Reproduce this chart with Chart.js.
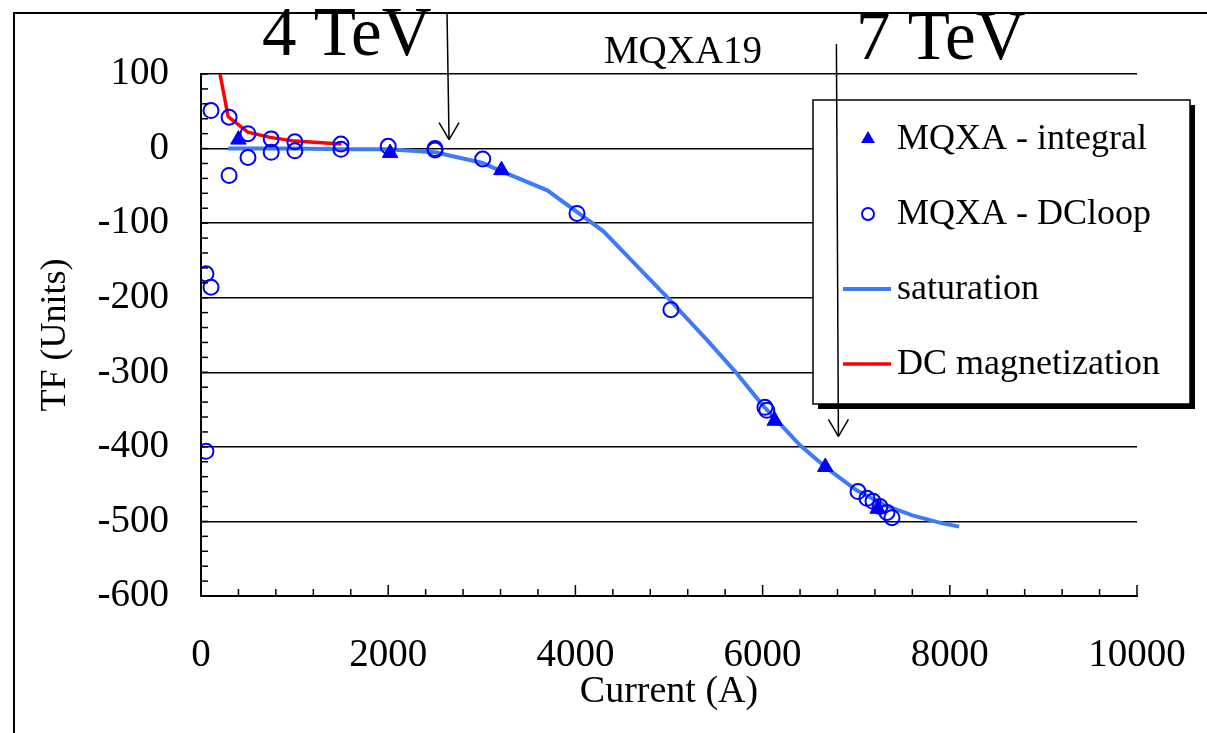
<!DOCTYPE html>
<html>
<head>
<meta charset="utf-8">
<script src="https://cdn.jsdelivr.net/npm/chart.js@4/dist/chart.umd.min.js"></script>
<style>
  html, body { margin:0; padding:0; background:#fff; }
  #wrap { position:relative; width:1207px; height:733px; }
</style>
</head>
<body>
<div id="wrap"><canvas id="c"></canvas></div>
<script>
// ---- data ----
const integralX = [400, 2020, 3210, 6130, 6670, 7230];
const integralY = [12, -6, -29, -365, -427, -483];

const dcloopX = [53, 53, 107, 107, 300, 300, 502, 502, 750, 750, 1003, 1003, 1495, 1495, 2000, 2500, 2500, 3010, 4017, 5020, 6025, 6045, 7019, 7115, 7180, 7254, 7329, 7382];
const dcloopY = [-168, -406, 51, -186, 42, -36, 20, -12, 13, -5, 9, -3, 6, -1, 3, 0, -2, -14, -87, -216, -347, -351, -460, -469, -473, -480, -488, -495];

const satX = [290, 1000, 1500, 2000, 2500, 3000, 3200, 3700, 4300, 4700, 5000, 5400, 5700, 6000, 6400, 6700, 7000, 7300, 7600, 7900, 8100];
const satY = [0, 0, -1, -1, -5, -19, -30, -56, -111, -163, -202, -256, -298, -344, -398, -430, -458, -478, -492, -502, -507];

const dcMagX = [203, 290, 500, 740, 1000, 1500];
const dcMagY = [100, 43, 22, 15, 10, 6];

const xTickLabels = ['0', '2000', '4000', '6000', '8000', '10000'];
const yTickLabels = ['100', '0', '-100', '-200', '-300', '-400', '-500', '-600'];
const seriesNames = ['MQXA - integral', 'MQXA - DCloop', 'saturation', 'DC magnetization'];
const chartTitle = 'MQXA19';
const energyLabels = ['4 TeV', '7 TeV'];
const energyCurrents = [2650, 6810];
const arrowTipValues = [12, -386];

const pts = (xs, ys) => xs.map((x, i) => ({x: x, y: ys[i]}));
const FONT = 'Liberation Serif, Times New Roman, serif';
const BLUE = '#0000ff';
const LIGHTBLUE = '#3d7cf6';
const RED = '#ff0000';

const overlay = {
  id: 'overlay',
  afterDraw(chart) {
    const ctx = chart.ctx, xs = chart.scales.x, ys = chart.scales.y, a = chart.chartArea;
    ctx.save();
    const line = (x1, y1, x2, y2) => { ctx.beginPath(); ctx.moveTo(x1, y1); ctx.lineTo(x2, y2); ctx.stroke(); };
    // inward ticks
    ctx.strokeStyle = '#000'; ctx.lineWidth = 1.5;
    for (let v = -600; v <= 100; v += 20) {
      const y = ys.getPixelForValue(v);
      line(a.left, y, a.left + 7, y);
    }
    for (let v = 0; v <= 10000; v += 400) {
      const x = xs.getPixelForValue(v);
      const len = (v % 2000 === 0) ? 11 : 7;
      line(x, a.bottom, x, a.bottom - len);
    }
    // legend box
    const L = 813, T = 100, R = 1190, B = 404;
    ctx.fillStyle = '#000';
    ctx.fillRect(L + 5, T + 5, R - L, B - T);
    ctx.fillStyle = '#fff';
    ctx.fillRect(L, T, R - L, B - T);
    ctx.strokeStyle = '#000'; ctx.lineWidth = 1.5;
    ctx.strokeRect(L, T, R - L, B - T);
    const rows = [139, 214, 289, 364];
    // triangle
    ctx.fillStyle = BLUE;
    const tr = 8, cx = 868;
    ctx.beginPath();
    ctx.moveTo(cx, rows[0] - tr);
    ctx.lineTo(cx + tr * 0.866, rows[0] + tr * 0.5);
    ctx.lineTo(cx - tr * 0.866, rows[0] + tr * 0.5);
    ctx.closePath(); ctx.fill();
    // circle
    ctx.strokeStyle = BLUE; ctx.lineWidth = 2;
    ctx.beginPath(); ctx.arc(cx, rows[1], 6, 0, Math.PI * 2); ctx.stroke();
    // lines
    ctx.lineWidth = 4; ctx.strokeStyle = LIGHTBLUE;
    line(843, rows[2], 891, rows[2]);
    ctx.lineWidth = 3.5; ctx.strokeStyle = RED;
    line(843, rows[3], 891, rows[3]);
    ctx.fillStyle = '#000';
    ctx.font = '36px ' + FONT;
    ctx.textAlign = 'left'; ctx.textBaseline = 'middle';
    seriesNames.forEach((n, i) => ctx.fillText(n, 897, rows[i] + 1));

    // title
    ctx.font = '39px ' + FONT;
    ctx.textAlign = 'center'; ctx.textBaseline = 'alphabetic';
    ctx.fillText(chartTitle, 683, 63);
    // energy labels
    ctx.font = '69px ' + FONT;
    ctx.textAlign = 'left';
    ctx.fillText(energyLabels[0], 262, 55);
    ctx.fillText(energyLabels[1], 856, 59);
    // arrows
    ctx.strokeStyle = '#000'; ctx.lineWidth = 1.5;
    const tops = [14, 44];
    energyCurrents.forEach((c, i) => {
      const tx = xs.getPixelForValue(c), ty = ys.getPixelForValue(arrowTipValues[i]);
      line(tx - 2, tops[i], tx, ty);
      line(tx - 10, ty - 17, tx, ty);
      line(tx + 10, ty - 17, tx, ty);
    });
    // outer frame (top + left)
    ctx.lineWidth = 2;
    line(13, 13, 1207, 13);
    line(14, 13, 14, 733);
    ctx.restore();
  }
};

new Chart(document.getElementById('c'), {
  type: 'scatter',
  data: {
    datasets: [
      { label: seriesNames[0], data: pts(integralX, integralY), pointStyle: 'triangle',
        pointRadius: 9, pointBackgroundColor: BLUE, pointBorderColor: BLUE, pointBorderWidth: 1, showLine: false, order: 0 },
      { label: seriesNames[1], data: pts(dcloopX, dcloopY), pointStyle: 'circle',
        pointRadius: 7.5, pointBackgroundColor: 'rgba(0,0,0,0)', pointBorderColor: BLUE, pointBorderWidth: 2, showLine: false, order: 1 },
      { label: seriesNames[2], data: pts(satX, satY), showLine: true, borderColor: LIGHTBLUE, borderWidth: 4,
        pointRadius: 0, tension: 0, fill: false, order: 2 },
      { label: seriesNames[3], data: pts(dcMagX, dcMagY), showLine: true, borderColor: RED, borderWidth: 3.5,
        pointRadius: 0, tension: 0, fill: false, order: 3 }
    ]
  },
  options: {
    responsive: true,
    maintainAspectRatio: false,
    animation: false,
    events: [],
    layout: { padding: { top: 74, right: 70, bottom: 0, left: 0 } },
    plugins: { legend: { display: false }, tooltip: { enabled: false }, title: { display: false } },
    scales: {
      x: {
        type: 'linear', min: 0, max: 10000,
        afterFit: s => { s.height = 137; s.paddingLeft = 0; s.paddingRight = 0; },
        grid: { display: false, drawTicks: false },
        border: { display: true, color: '#000', width: 2 },
        ticks: { stepSize: 2000, padding: 36, color: '#000', font: { family: FONT, size: 39 },
          maxRotation: 0, callback: (v) => xTickLabels[Math.round(v / 2000)] },
        title: { display: true, text: 'Current (A)', color: '#000', font: { family: FONT, size: 38 },
          padding: { top: 0, bottom: 18 } }
      },
      y: {
        type: 'linear', min: -600, max: 100,
        afterFit: s => { s.width = 201; s.paddingTop = 0; s.paddingBottom = 0; },
        grid: { display: true, color: '#000', lineWidth: 1.5, drawTicks: false },
        border: { display: true, color: '#000', width: 2 },
        ticks: { stepSize: 100, padding: 32, color: '#000', font: { family: FONT, size: 39 },
          callback: (v) => yTickLabels[Math.round((100 - v) / 100)] },
        title: { display: true, text: 'TF (Units)', color: '#000', font: { family: FONT, size: 36 },
          padding: { top: 34, bottom: 0 } }
      }
    }
  },
  plugins: [overlay]
});
</script>
</body>
</html>
